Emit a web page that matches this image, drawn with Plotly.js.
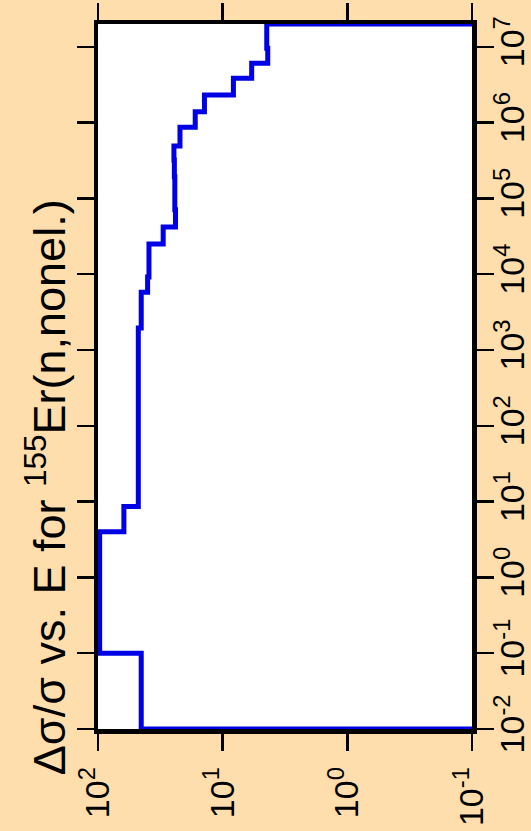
<!DOCTYPE html>
<html>
<head>
<meta charset="utf-8">
<script src="https://cdn.plot.ly/plotly-3.0.1.min.js"></script>
<style>html,body{margin:0;padding:0;background:#FFDEAD;}#chart{width:531px;height:831px;}</style>
</head>
<body>
<div id="chart"></div>
<script>
// Bin edges in incident energy E (eV), lowest to highest
const energyEdges = [0.01, 0.1, 4.0, 8.6, 1950, 5800, 9200, 25000, 42000, 71000, 193000, 321000, 490000, 870000, 1.39e6, 2.31e6, 3.84e6, 6.05e6, 9.6e6, 2.0e7];
// Relative uncertainty Δσ/σ (%) in each bin
const relUncertainty = [45, 97, 62, 47.5, 45, 40, 39, 30, 23.9, 24.2, 24.4, 24.6, 22, 16.6, 14.0, 8.2, 5.85, 4.35, 4.43];
// Value used to close the histogram at both ends (axis floor)
const floorValue = 0.1;

const xTickVals = [100, 10, 1, 0.1];
const xTickText = ['10<sup>2</sup>', '10<sup>1</sup>', '10<sup>0</sup>', '10<sup>-1</sup>'];
const yTickVals = [1e-2, 1e-1, 1e0, 1e1, 1e2, 1e3, 1e4, 1e5, 1e6, 1e7];
const yTickText = ['10<sup>-2</sup>', '10<sup>-1</sup>', '10<sup>0</sup>', '10<sup>1</sup>', '10<sup>2</sup>',
                   '10<sup>3</sup>', '10<sup>4</sup>', '10<sup>5</sup>', '10<sup>6</sup>', '10<sup>7</sup>'];

// Build the step outline (rotated chart: value on horizontal, energy on vertical)
const xs = [floorValue], ys = [energyEdges[0]];
for (let i = 0; i < relUncertainty.length; i++) {
  xs.push(relUncertainty[i]); ys.push(energyEdges[i]);
  xs.push(relUncertainty[i]); ys.push(energyEdges[i + 1]);
}
xs.push(floorValue); ys.push(energyEdges[energyEdges.length - 1]);

const font = 'Arial, "Liberation Sans", sans-serif';
const axisCommon = {
  type: 'log', showline: true, linewidth: 4.5, linecolor: 'black', mirror: 'allticks',
  ticks: 'outside', ticklen: 17, tickwidth: 2.5, tickcolor: 'black',
  showgrid: false, zeroline: false, tickmode: 'array', tickangle: -90,
  tickfont: {family: font, size: 34, color: 'black'}, layer: 'below traces'
};

const data = [{
  type: 'scatter', mode: 'lines', x: xs, y: ys,
  line: {color: 'rgb(0,0,230)', width: 5}, hoverinfo: 'skip'
}];

const layout = {
  width: 531, height: 831,
  paper_bgcolor: '#FFDEAD', plot_bgcolor: 'white',
  margin: {l: 98, r: 59, t: 24, b: 102, pad: 0},
  showlegend: false,
  xaxis: Object.assign({}, axisCommon, {range: [2, -1], tickvals: xTickVals, ticktext: xTickText, side: 'bottom', ticklabelstandoff: 3}),
  yaxis: Object.assign({}, axisCommon, {range: [-2, Math.log10(2e7)], tickvals: yTickVals, ticktext: yTickText, side: 'right', ticklabelstandoff: -10}),
  annotations: [{
    text: 'Δσ/σ vs. E for <sup>155</sup>Er(n,nonel.)',
    xref: 'paper', yref: 'paper', x: -0.139, y: 0.343,
    xanchor: 'center', yanchor: 'middle', textangle: -90, showarrow: false,
    font: {family: font, size: 45, color: 'black'}
  }]
};

Plotly.newPlot('chart', data, layout, {staticPlot: true});
</script>
</body>
</html>
